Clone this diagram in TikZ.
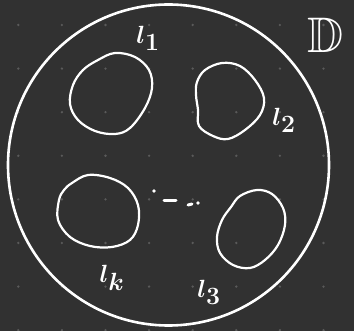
\documentclass[tikz,border=0pt]{standalone}
\usepackage{amssymb}
\definecolor{bg}{RGB}{49,49,49}
\definecolor{griddot}{RGB}{90,90,90}
\tikzset{
  ink/.style={draw=white, line width=2pt, line cap=round, line join=round},
  loopline/.style={ink, line width=2.2pt},
  lbl/.style={text=white, inner sep=0pt, font=\fontsize{42}{46}\selectfont\boldmath},
}
\begin{document}
\begin{tikzpicture}[x=1pt,y=-1pt]
\fill[bg] (0,0) rectangle (354,331);
\useasboundingbox (0,0) rectangle (354,331);
% grid dots
\foreach \i in {0,...,7}{
  \foreach \j in {0,...,7}{
    \fill[griddot] ({18.3+43.6*\i},{25+43.6*\j}) circle (1.3);
  }
}
% outer disc
\node[ink, line width=2.6pt, circle, minimum size=321pt, inner sep=0pt] (disc) at (168.5,165) {};
% loops
\draw[loopline] plot[smooth cycle, tension=0.6] coordinates {(98,60) (115,53) (135,57) (149,70) (152,88) (145,108) (130,128) (115,134) (95,131) (78,120) (70,104) (73,85) (83,70)};
\draw[loopline] plot[smooth cycle, tension=0.6] coordinates {(205,70) (222,63) (240,66) (255,80) (264,98) (260,115) (245,130) (228,139) (213,136) (199,126) (198,110) (196,95) (197,82)};
\draw[loopline] plot[smooth cycle, tension=0.6] coordinates {(72,183) (88,175) (110,178) (128,188) (138,205) (138,225) (130,240) (112,247) (90,246) (70,237) (58,220) (59,200) (64,190)};
\draw[loopline] plot[smooth cycle, tension=0.6] coordinates {(240,196) (257,190) (272,194) (283,208) (285,225) (278,245) (265,260) (250,268) (233,265) (220,253) (217,237) (222,220) (231,207)};
% dots between
\fill[white] (154,191) circle (1.8);
\draw[ink, line width=3pt] (164,201) -- (176,201);
\draw[ink, line width=3pt] (188,205) -- (192,204);
\fill[white] (198,203) circle (1.8);
% labels
\node[lbl] (l1) at (148,38) {$l_1$};
\node[lbl] (l2) at (284,120) {$l_2$};
\node[lbl] (lk) at (112,278) {$l_k$};
\node[lbl] (l3) at (209,292) {$l_3$};
\node[lbl, font=\fontsize{50}{54}\selectfont] (D) at (326,35) {$\mathbb{D}$};
\end{tikzpicture}
\end{document}
